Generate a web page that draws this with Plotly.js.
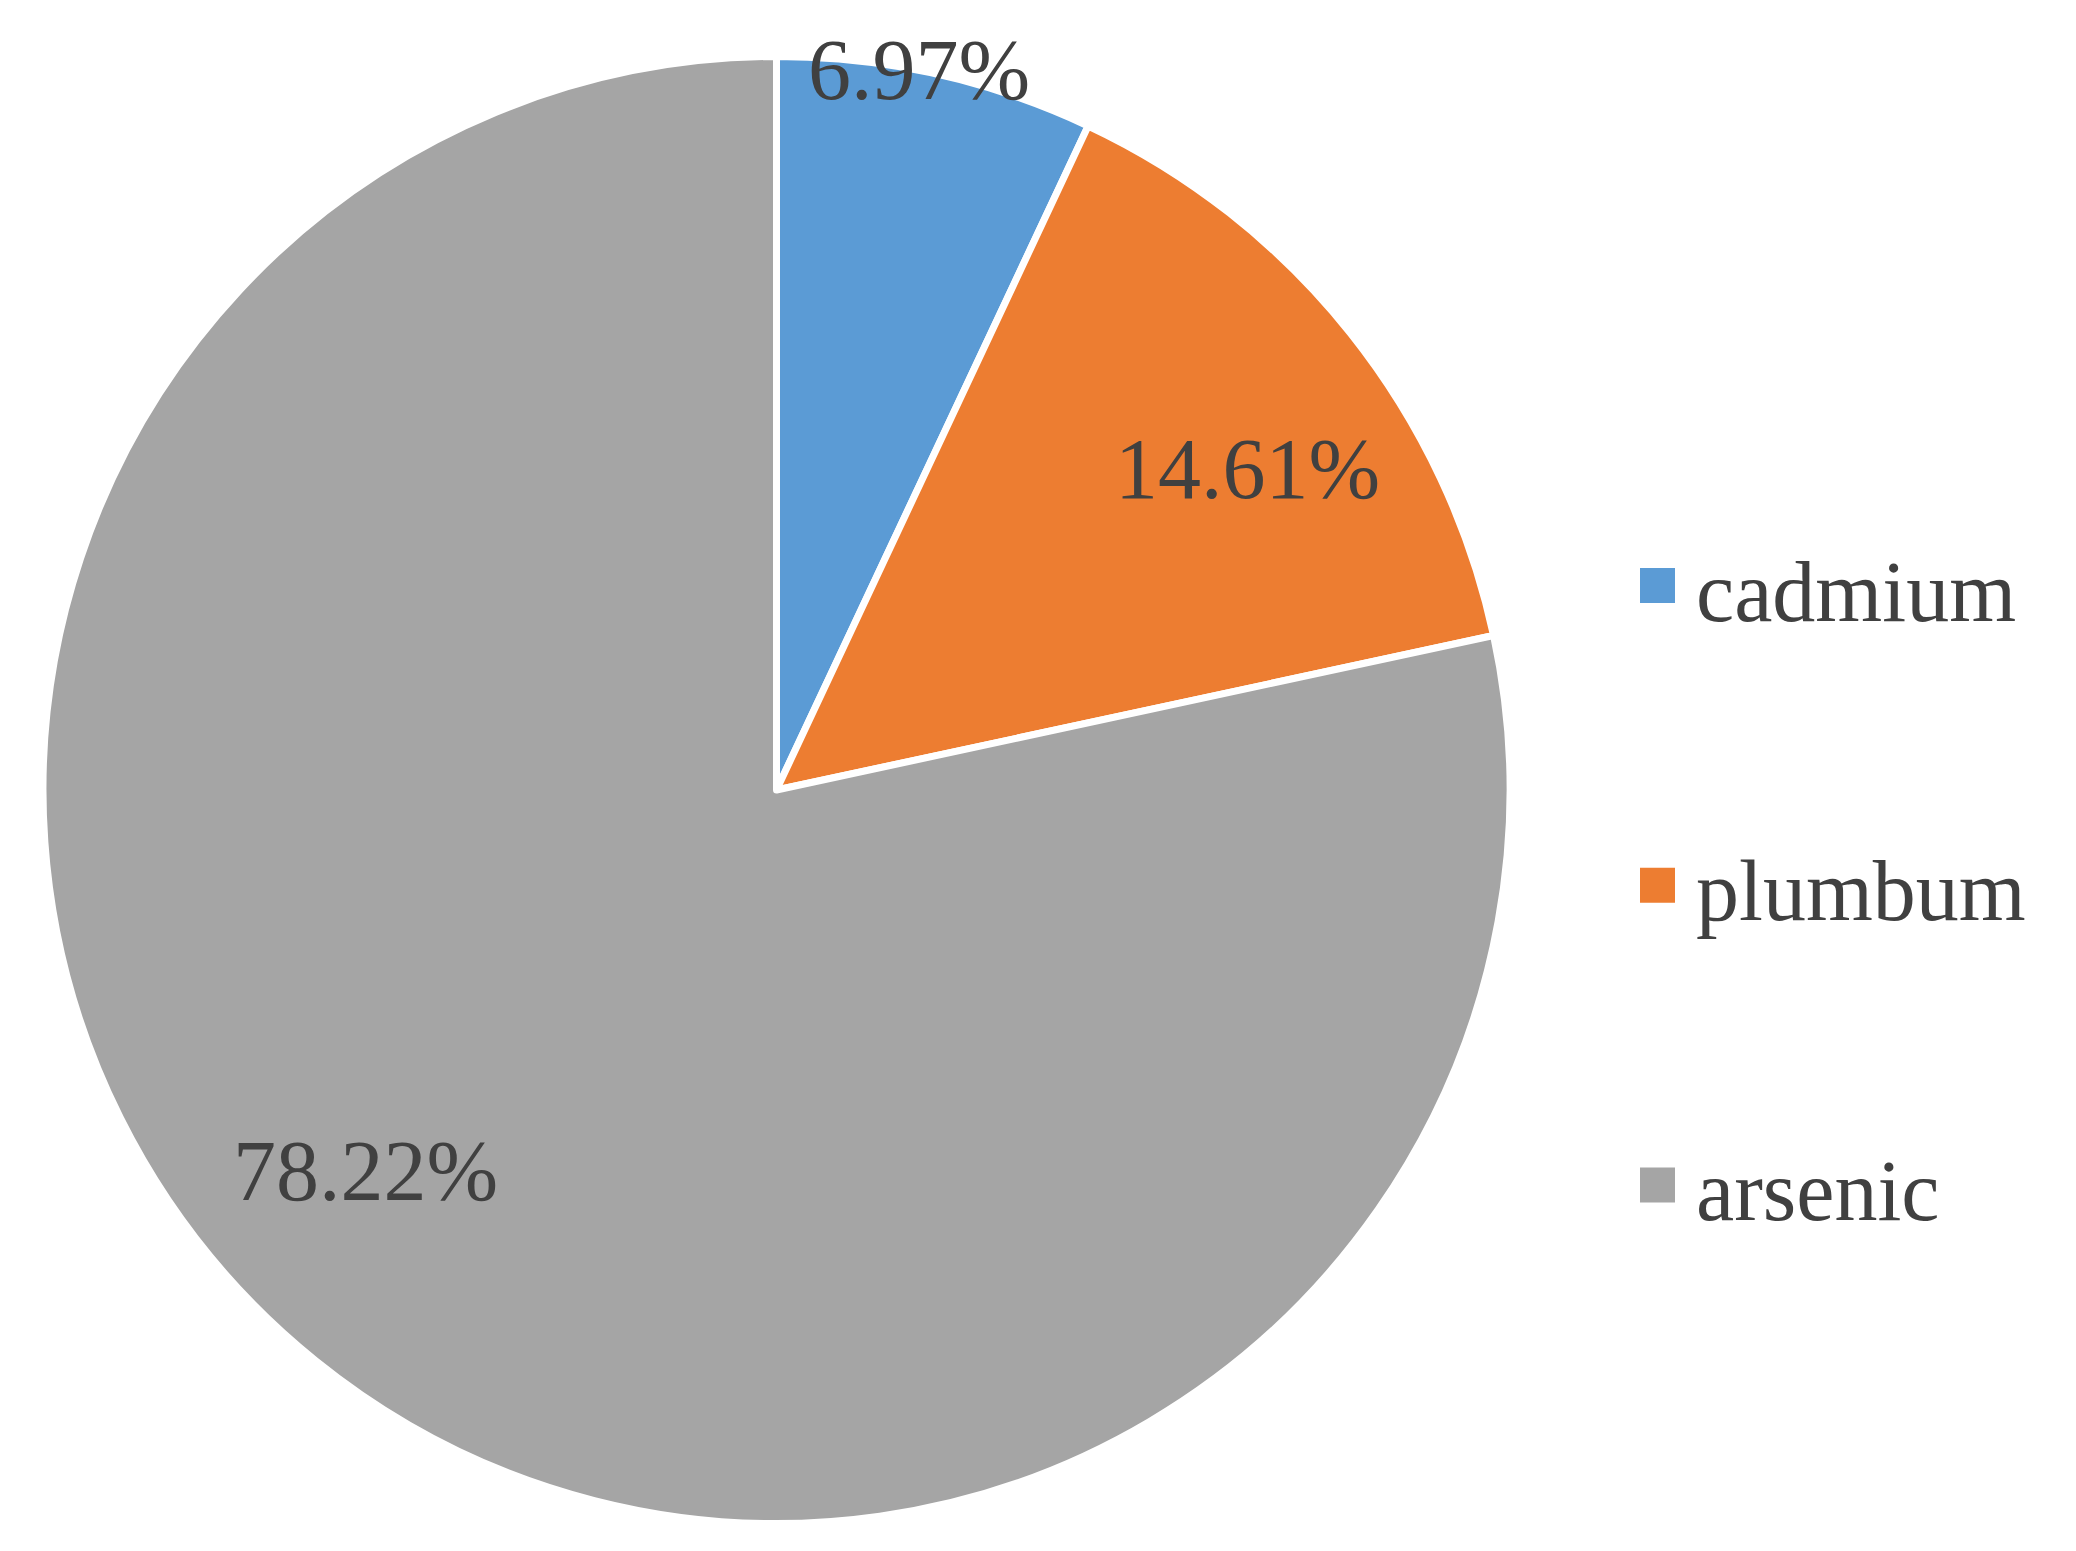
<!DOCTYPE html>
<html>
<head>
<meta charset="utf-8">
<script src="https://cdn.plot.ly/plotly-3.0.1.min.js"></script>
<style>
  html, body { margin: 0; padding: 0; background: #fff; }
  #chart { width: 2076px; height: 1551px; }
</style>
</head>
<body>
<div id="chart"></div>
<script>
// Data
var labels = ['cadmium', 'plumbum', 'arsenic'];
var shares = [6.97, 14.61, 78.22];
var colors = ['#5B9BD5', '#ED7D31', '#A5A5A5'];

// Label placement (Excel "best fit" look): radial factor and small angle nudge
var labelRadius = [1.0, 0.777, 0.764];
var labelNudge = [-1.4, 4.2, 8.2];

var W = 2076, H = 1551;
var cx = 776.5, cy = 790, r = 733.5;
var fontFam = '"Liberation Serif", "Times New Roman", serif';
var textCol = '#404040';

var pie = {
  type: 'pie',
  labels: labels,
  values: shares,
  sort: false,
  direction: 'clockwise',
  rotation: 0,
  marker: { colors: colors, line: { color: '#ffffff', width: 7 } },
  textinfo: 'none',
  hoverinfo: 'skip',
  showlegend: false,
  domain: {
    x: [(cx - r) / W, (cx + r) / W],
    y: [(H - cy - r) / H, (H - cy + r) / H]
  }
};

// Percent labels, placed from each slice's mid angle
var total = shares.reduce(function(a, b) { return a + b; }, 0);
var annotations = [];
var shapes = [];
var cum = 0;
shares.forEach(function(v, i) {
  var mid = (cum + v / 2) / total * 360 + labelNudge[i];
  cum += v;
  var a = mid * Math.PI / 180;
  var px = cx + r * labelRadius[i] * Math.sin(a);
  var py = cy - r * labelRadius[i] * Math.cos(a);
  annotations.push({
    xref: 'paper', yref: 'paper',
    x: px / W, y: 1 - py / H,
    xanchor: 'center', yanchor: 'middle',
    text: v.toFixed(2) + '%',
    showarrow: false,
    font: { family: fontFam, size: 86, color: textCol }
  });
});

// Legend on the right, spaced like the original
var legX = 1640, legY0 = 585.5, legGap = 299.8, sq = 35;
labels.forEach(function(name, i) {
  var yc = legY0 + i * legGap;
  shapes.push({
    type: 'rect', xref: 'paper', yref: 'paper',
    x0: legX / W, x1: (legX + sq) / W,
    y0: 1 - (yc + sq / 2) / H, y1: 1 - (yc - sq / 2) / H,
    fillcolor: colors[i], line: { width: 0 }
  });
  annotations.push({
    xref: 'paper', yref: 'paper',
    x: 1694 / W, y: 1 - (yc + 6) / H,
    xanchor: 'left', yanchor: 'middle',
    text: name,
    showarrow: false,
    font: { family: fontFam, size: 86, color: textCol }
  });
});

var layout = {
  width: W, height: H,
  margin: { l: 0, r: 0, t: 0, b: 0 },
  paper_bgcolor: '#ffffff',
  showlegend: false,
  annotations: annotations,
  shapes: shapes
};

Plotly.newPlot('chart', [pie], layout, { staticPlot: true });
</script>
</body>
</html>
